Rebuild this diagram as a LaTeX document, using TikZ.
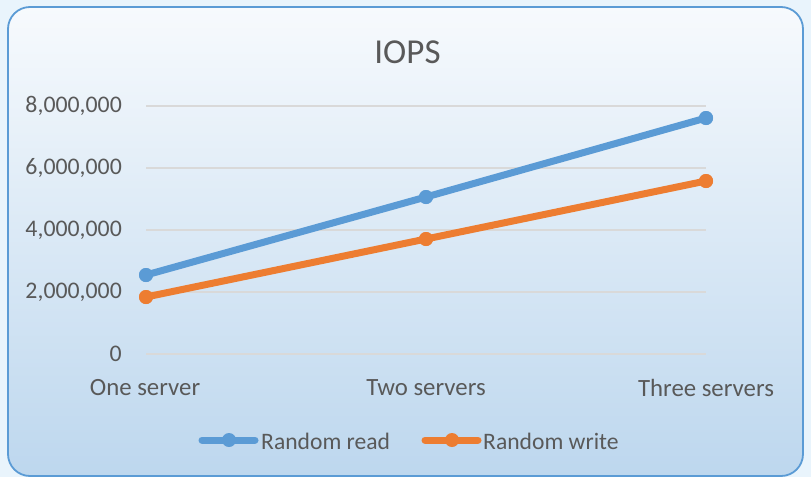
\documentclass[tikz,border=0pt]{standalone}
\usepackage{fontspec}
\setmainfont{Carlito}
\definecolor{outerbg}{HTML}{E9F4FC}
\definecolor{frame}{HTML}{5B9BD5}
\definecolor{bgtop}{HTML}{F7FAFD}
\definecolor{bgmid}{HTML}{EEF4FA}
\definecolor{bgbot}{HTML}{BDD7EE}
\definecolor{readc}{HTML}{5B9BD5}
\definecolor{writec}{HTML}{ED7D31}
\definecolor{gridc}{HTML}{D9D9D9}
\definecolor{txt}{HTML}{595959}
\begin{document}
\begin{tikzpicture}[x=1pt,y=-1pt,
  grid/.style={draw=gridc,line width=1.3pt},
  ylab/.style={anchor=east,text=txt,font=\fontsize{23.8}{27}\selectfont,inner sep=0pt},
  xlab/.style={anchor=center,text=txt,font=\fontsize{24.8}{28}\selectfont,inner sep=0pt},
  mk/.style={circle,inner sep=0pt,minimum size=14pt},
  rmk/.style={mk,fill=readc},
  wmk/.style={mk,fill=writec},
  rline/.style={draw=readc,line width=7pt},
  wline/.style={draw=writec,line width=7pt},
  leg/.style={anchor=west,text=txt,font=\fontsize{23.6}{27}\selectfont,inner sep=0pt}]
\useasboundingbox (0,0) rectangle (811,477);
\fill[outerbg] (0,0) rectangle (811,477);
\shade[top color=bgtop,middle color=bgmid,bottom color=bgbot,rounded corners=22pt]
  (8,7) rectangle (803,476);
\draw[frame,line width=1.8pt,rounded corners=22pt] (8,7) rectangle (803,476);
% title
\node[text=txt,font=\fontsize{35}{40}\selectfont,inner sep=0pt] (title) at (407.5,52) {IOPS};
% grid
\foreach \v/\y in {0/354,2/292,4/230,6/168,8/106}{
  \coordinate (gl\v) at (146,\y);
  \coordinate (gr\v) at (706,\y);
  \draw[grid] (gl\v) -- (gr\v);
}
\node[ylab] (y8) at (122,106) {8,000,000};
\node[ylab] (y6) at (122,168) {6,000,000};
\node[ylab] (y4) at (122,230) {4,000,000};
\node[ylab] (y2) at (122,292) {2,000,000};
\node[ylab] (y0) at (122,354) {0};
% categories
\node[xlab] (c1) at (145,388) {One server};
\node[xlab] (c2) at (426,388) {Two servers};
\node[xlab] (c3) at (706,388) {Three servers};
% data
\node[rmk] (r1) at (146,275) {};
\node[rmk] (r2) at (426,197) {};
\node[rmk] (r3) at (706,118) {};
\node[wmk] (w1) at (146,297) {};
\node[wmk] (w2) at (426,239) {};
\node[wmk] (w3) at (706,181) {};
\draw[rline] (r1.center) -- (r2.center) -- (r3.center);
\draw[wline] (w1.center) -- (w2.center) -- (w3.center);
\node[rmk] at (r1) {};
\node[rmk] at (r2) {};
\node[rmk] at (r3) {};
\node[wmk] at (w1) {};
\node[wmk] at (w2) {};
\node[wmk] at (w3) {};
% legend
\coordinate (la1) at (202,440);
\coordinate (lb1) at (255,440);
\draw[rline,line cap=round] (la1) -- (lb1);
\node[rmk] (lm1) at (229,440) {};
\node[leg] (lt1) at (261,441) {Random read};
\coordinate (la2) at (425,440);
\coordinate (lb2) at (478,440);
\draw[wline,line cap=round] (la2) -- (lb2);
\node[wmk] (lm2) at (452,440) {};
\node[leg] (lt2) at (483,441) {Random write};
\end{tikzpicture}
\end{document}
